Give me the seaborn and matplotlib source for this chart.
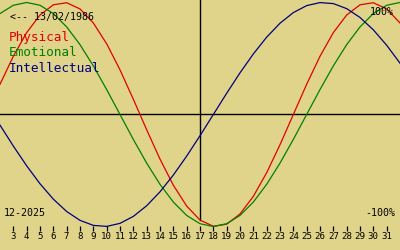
import matplotlib
matplotlib.use("Agg")
import matplotlib.pyplot as plt
import seaborn as sns
import pandas as pd

days = list(range(2, 33))
physical = [0.2698, 0.5196, 0.7308, 0.8879, 0.9791, 0.9977, 0.9423, 0.8170, 0.6311, 0.3984,
            0.1362, -0.1362, -0.3984, -0.6311, -0.8170, -0.9423, -0.9977, -0.9791, -0.8879, -0.7308,
            -0.5196, -0.2698, 0.0, 0.2698, 0.5196, 0.7308, 0.8879, 0.9791, 0.9977, 0.9423, 0.8170]
emotional = [0.9010, 0.9749, 1.0, 0.9749, 0.9010, 0.7818, 0.6235, 0.4339, 0.2225, 0.0,
             -0.2225, -0.4339, -0.6235, -0.7818, -0.9010, -0.9749, -1.0, -0.9749, -0.9010, -0.7818,
             -0.6235, -0.4339, -0.2225, 0.0, 0.2225, 0.4339, 0.6235, 0.7818, 0.9010, 0.9749, 1.0]
intellectual = [-0.0951, -0.2817, -0.4582, -0.6182, -0.7557, -0.8660, -0.9450, -0.9898, -0.9989, -0.9718,
                -0.9096, -0.8146, -0.6901, -0.5406, -0.3717, -0.1893, 0.0, 0.1893, 0.3717, 0.5406,
                0.6901, 0.8146, 0.9096, 0.9718, 0.9989, 0.9898, 0.9450, 0.8660, 0.7557, 0.6182, 0.4582]
series_names = ["Physical", "Emotional", "Intellectual"]
series_colors = ["#e00000", "#008000", "#000080"]
tick_days = list(range(3, 32))
today = 17
birth_label = "<-- 13/02/1986"
month_label = "12-2025"

bg = "#e0d48a"
mono = "DejaVu Sans Mono"

df = pd.DataFrame({
    "day": days * 3,
    "value": physical + emotional + intellectual,
    "series": sum([[n] * len(days) for n in series_names], []),
})

fig = plt.figure(figsize=(4, 2.5), dpi=100, facecolor=bg)
ax = fig.add_axes([0, 19 / 250, 1, 231 / 250])
ax.set_facecolor(bg)

sns.lineplot(data=df, x="day", y="value", hue="series", hue_order=series_names,
             palette=series_colors, linewidth=0.9, legend=False, ax=ax)

ax.set_xlim(2, 32)
ax.set_ylim(-1.040, 1.022)
ax.axhline(0, color="black", linewidth=1.0, zorder=1)
ax.axvline(today, ymin=0.0476, ymax=1, color="black", linewidth=1.0, zorder=1)

for s in ax.spines.values():
    s.set_visible(False)
ax.set_yticks([])
ax.set_xticks(tick_days)
ax.set_xticklabels([str(d) for d in tick_days], fontsize=6.6, family=mono)
ax.tick_params(axis="x", direction="in", length=3.8, width=0.9, pad=0.8, colors="black")
ax.set_xlabel("")
ax.set_ylabel("")

def px(x, y):
    return (x / 400, 1 - y / 250)

fig.text(*px(10, 17), birth_label, fontsize=7.2, family=mono, color="black", va="center", ha="left")
for i, (n, c) in enumerate(zip(series_names, series_colors)):
    fig.text(*px(9, 38 + 15 * i), n, fontsize=9.2, family=mono, color=c, va="center", ha="left")
fig.text(*px(394, 12), "100%", fontsize=7.2, family=mono, color="black", va="center", ha="right")
fig.text(*px(395, 213), "-100%", fontsize=7.2, family=mono, color="black", va="center", ha="right")
fig.text(*px(4, 213), month_label, fontsize=7.2, family=mono, color="black", va="center", ha="left")

fig.savefig("out.png", dpi=100, facecolor=bg)
